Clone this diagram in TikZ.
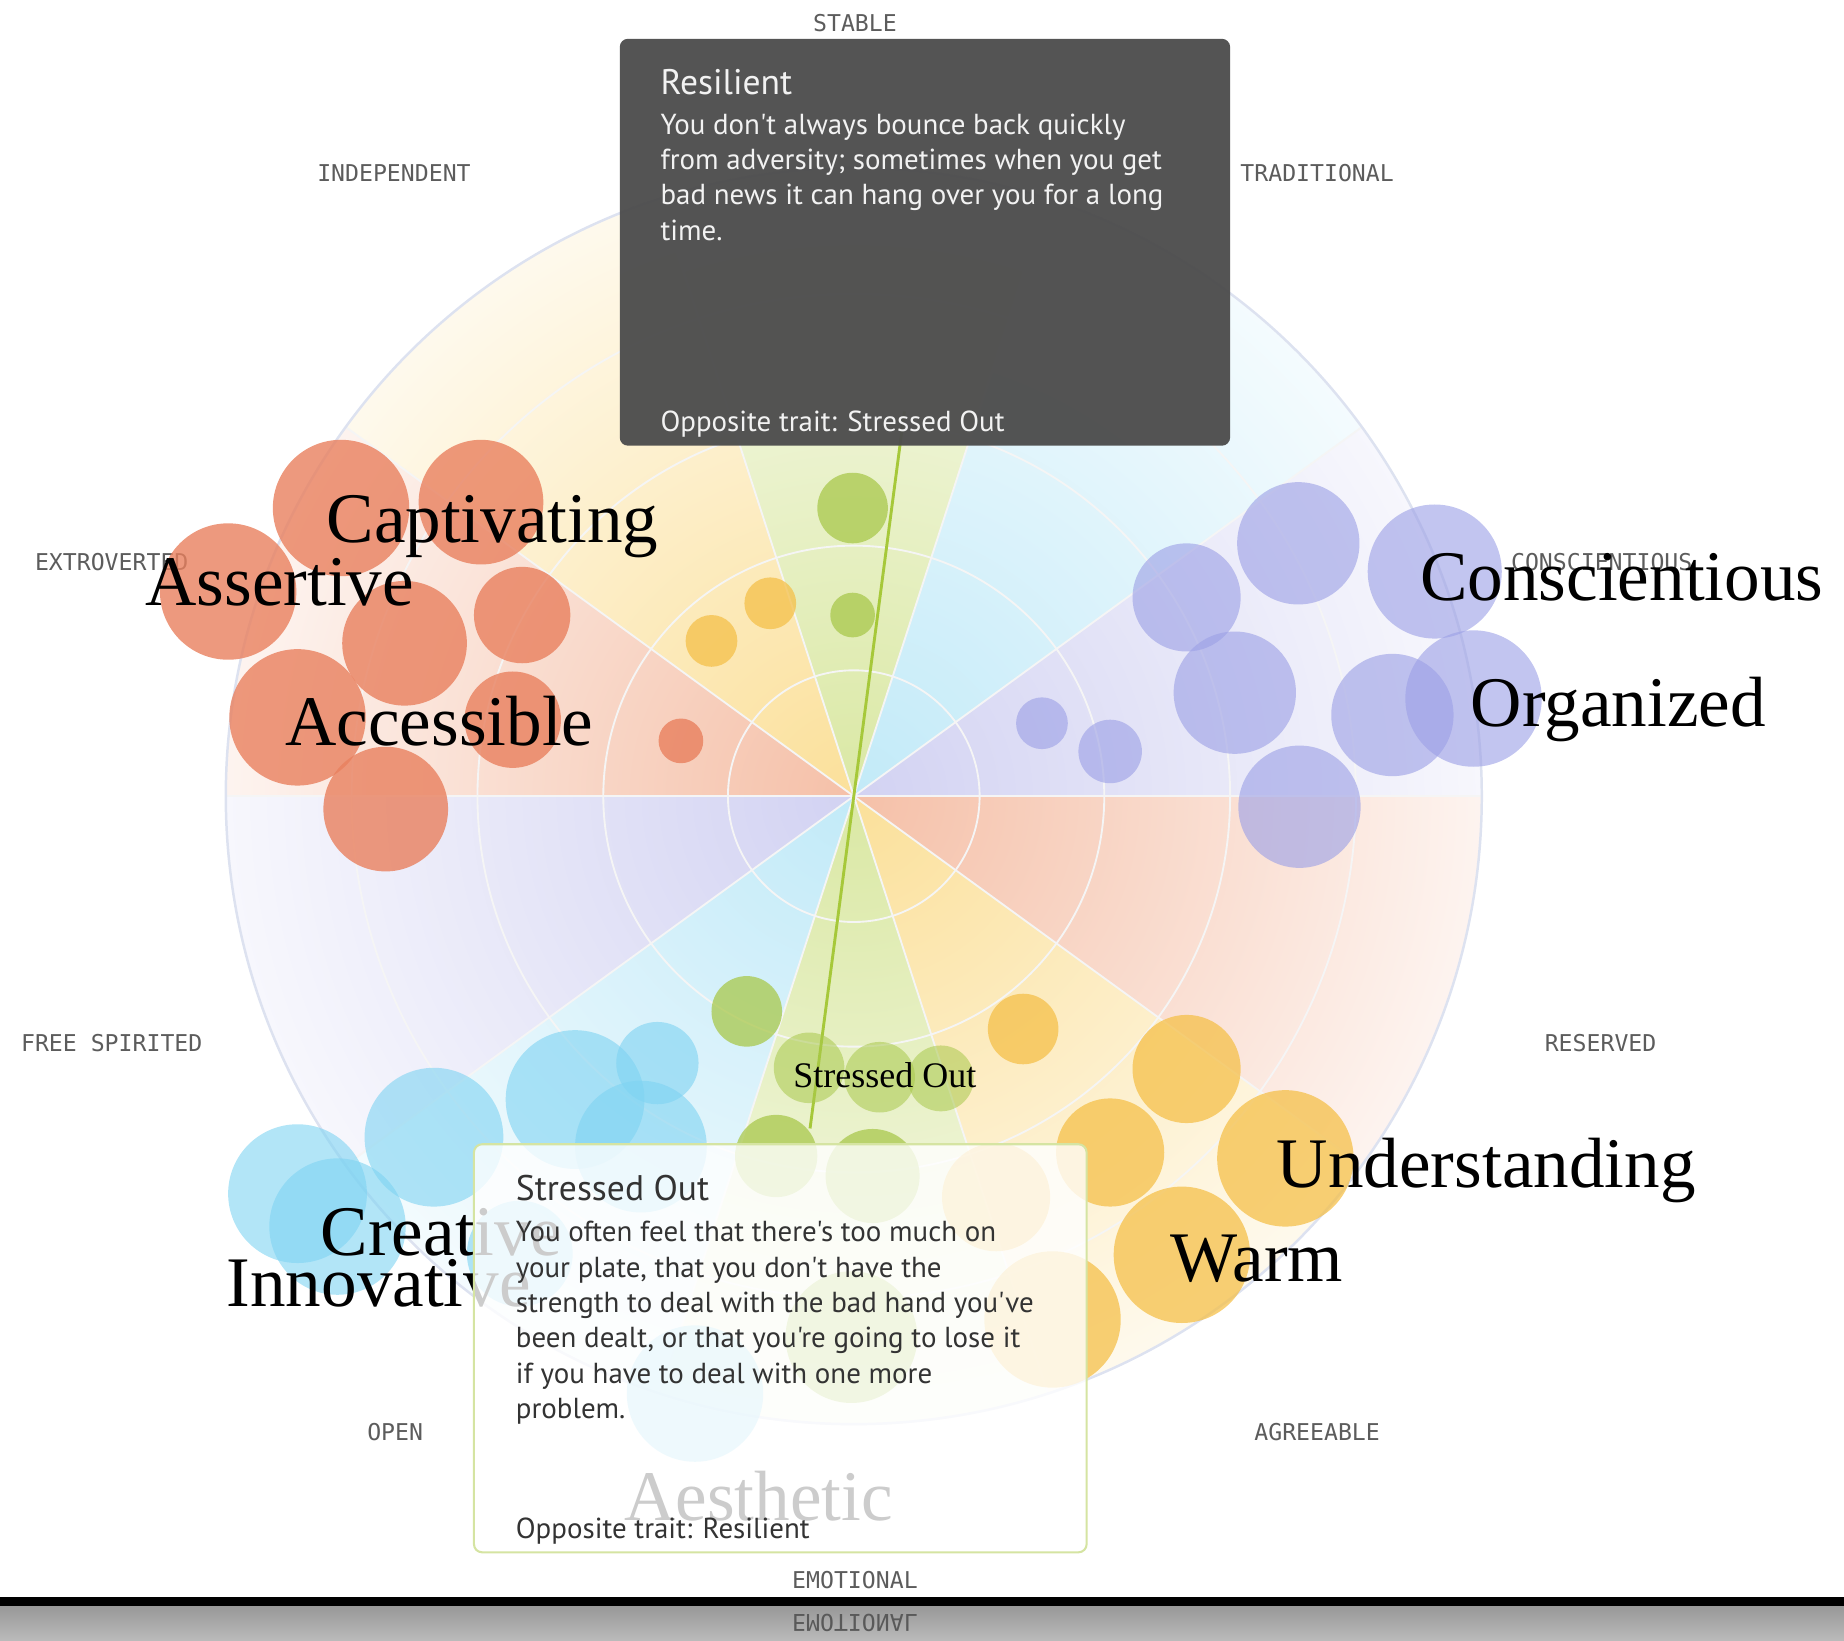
\documentclass[tikz,border=0pt]{standalone}
\usepackage{fontspec}
\usepackage{graphicx}
\setmainfont{Liberation Serif}
\newfontfamily\tipfont{PT Sans}
\newfontfamily\pixfont{DejaVu Sans Mono}
\usetikzlibrary{positioning}
\definecolor{WheelRed}{HTML}{F5C0A8}
\definecolor{WheelYellow}{HTML}{FBE09A}
\definecolor{WheelGreen}{HTML}{DAE8A4}
\definecolor{WheelCyan}{HTML}{C2EAF8}
\definecolor{WheelPurple}{HTML}{D2D2F2}
\definecolor{BubRed}{HTML}{E9805E}
\definecolor{BubYellow}{HTML}{F5C04A}
\definecolor{BubGreen}{HTML}{A9C84C}
\definecolor{BubCyan}{HTML}{7ED3F2}
\definecolor{BubPurple}{HTML}{9DA1E6}
\definecolor{RimBlue}{HTML}{DDE2F0}
\definecolor{AxisGray}{HTML}{5C5C5C}
\definecolor{TipDark}{HTML}{4D4D4D}
\definecolor{TipEdge}{HTML}{D5E4A2}
\definecolor{NeedleGreen}{HTML}{A6C83A}

\begin{document}
\begin{tikzpicture}[x=0.01cm, y=-0.01cm,
    axislab/.style={font=\pixfont\fontsize{5.6}{6}\selectfont, text=AxisGray, inner sep=0pt},
    trait/.style={font=\fontsize{17.2}{18}\selectfont, anchor=base west, inner sep=0pt},
    ringline/.style={draw=white!96!black, line width=0.45pt},
    tiptitle/.style={font=\tipfont\fontsize{8.6}{10}\selectfont, anchor=base west, inner sep=0pt},
    tipbody/.style={font=\tipfont\fontsize{7}{8.54}\selectfont, align=left, inner sep=0pt}]
    \useasboundingbox (0,0) rectangle (1568,1395);

    % Rueda
    \begin{scope}[shift={(726,677)}]
        \foreach \k/\col in {0/WheelRed, 1/WheelYellow, 2/WheelGreen, 3/WheelCyan, 4/WheelPurple,
                             5/WheelRed, 6/WheelYellow, 7/WheelGreen, 8/WheelCyan, 9/WheelPurple} {
            \begin{scope}
                \clip (0,0) -- (36*\k:534) arc[start angle=36*\k, end angle=36*\k+36, radius=534] -- cycle;
                \shade[inner color=\col, outer color=\col!18!white] (0,0) circle (534);
            \end{scope}
        }
        \foreach \r in {107,213,320,427}
            \draw[ringline] (0,0) circle (\r);
        \foreach \a in {0,36,...,324}
            \draw[ringline] (0,0) -- (\a:534);
        \draw[RimBlue, line width=0.6pt] (0,0) circle (534);
        \draw[NeedleGreen, line width=0.7pt] (97.5:285) -- (-82.5:330);
    \end{scope}

    % Ejes
    \foreach \x/\y/\n/\t in {727/20/stable/STABLE, 335/147/indep/INDEPENDENT, 1120/147/trad/TRADITIONAL,
                             95/478/extro/EXTROVERTED, 1362/478/consc/CONSCIENTIOUS,
                             95/887/free/FREE SPIRITED, 1361/887/reserv/RESERVED,
                             336/1218/open/OPEN, 1120/1218/agree/AGREEABLE, 727/1344/emot/EMOTIONAL}
        \node[axislab] (\n) at (\x,\y) {\t};

    % Burbujas
    \foreach \x/\y/\r in {290/432/58, 409/427/53, 194/503/58, 344/547/53, 444/523/41,
                          253/610/58, 436/612/41, 328/688/53, 579/630/19}
        \fill[BubRed, fill opacity=0.8] (\x,\y) circle (\r);
    \foreach \x/\y/\r in {605/545/22, 655/513/22, 870/875/30, 1009/909/46, 944/980/46,
                          1093/985/58, 1005/1067/58, 847/1018/46, 895/1122/58}
        \fill[BubYellow, fill opacity=0.75] (\x,\y) circle (\r);
    \foreach \x/\y/\r in {725/432/30, 725/523/19, 635/860/30, 660/983/35, 742/1000/40, 724/1137/56}
        \fill[BubGreen, fill opacity=0.75] (\x,\y) circle (\r);
    \foreach \x/\y/\r in {688/908/30, 748/916/30, 800/917/28}
        \fill[BubGreen, fill opacity=0.55] (\x,\y) circle (\r);
    \foreach \x/\y/\r in {253/1015/59, 287/1043/58, 369/967/59, 489/935/59, 559/904/35,
                          545/975/56, 442/1066/45, 591/1185/58}
        \fill[BubCyan, fill opacity=0.6] (\x,\y) circle (\r);
    \foreach \x/\y/\r in {1104/462/52, 1009/508/46, 1220/486/57, 1050/589/52, 1184/608/52,
                          1253/594/58, 1105/686/52, 944/639/27, 886/615/22}
        \fill[BubPurple, fill opacity=0.62] (\x,\y) circle (\r);

    % Rasgos
    \node[trait] (captivating) at (277,461) {Captivating};
    \node[trait] (assertive) at (123,515) {Assertive};
    \node[trait] (accessible) at (242,634) {Accessible};
    \node[trait] (conscientious) at (1207,511) {Conscientious};
    \node[trait] (organized) at (1250,618) {Organized};
    \node[trait] (understanding) at (1085,1010) {Understanding};
    \node[trait] (warm) at (995,1090) {Warm};
    \node[trait] (creative) at (272,1068) {Creative};
    \node[trait] (innovative) at (192,1111) {Innovative};
    \node[trait] (aesthetic) at (530,1293) {Aesthetic};
    \node[trait, font=\fontsize{8.7}{10}\selectfont] (stressed) at (674,925) {Stressed Out};

    % Ficha oscura
    \fill[TipDark, fill opacity=0.96, rounded corners=0.07cm] (527,33) rectangle (1046,379);
    \node[tiptitle, text=white!95!black] (restitle) at (561,80) {Resilient};
    \node[tipbody, text=white!95!black, anchor=north west] (resbody) at (561,96)
        {You don't always bounce back quickly\\from adversity; sometimes when you get\\bad news it can hang over you for a long\\time.};
    \node[tipbody, text=white!95!black, anchor=base west] (resopp) at (561,367) {Opposite trait: Stressed Out};

    % Ficha clara
    \fill[white, fill opacity=0.8, rounded corners=0.07cm] (403,973) rectangle (924,1320);
    \draw[TipEdge, line width=0.5pt, rounded corners=0.07cm] (403,973) rectangle (924,1320);
    \node[tiptitle, text=black!80] (strtitle) at (438,1021) {Stressed Out};
    \node[tipbody, text=black!80, anchor=north west] (strbody) at (438,1038)
        {You often feel that there's too much on\\your plate, that you don't have the\\strength to deal with the bad hand you've\\been dealt, or that you're going to lose it\\if you have to deal with one more\\problem.};
    \node[tipbody, text=black!80, anchor=base west] (stropp) at (438,1308) {Opposite trait: Resilient};

    % Barra inferior
    \fill[black] (0,1358) rectangle (1568,1366);
    \shade[top color=black!40, bottom color=black!27] (0,1366) rectangle (1568,1395);
    \node[axislab, text=black!65] (emotrefl) at (727,1380) {\scalebox{1}[-1]{EMOTIONAL}};
\end{tikzpicture}
\end{document}
